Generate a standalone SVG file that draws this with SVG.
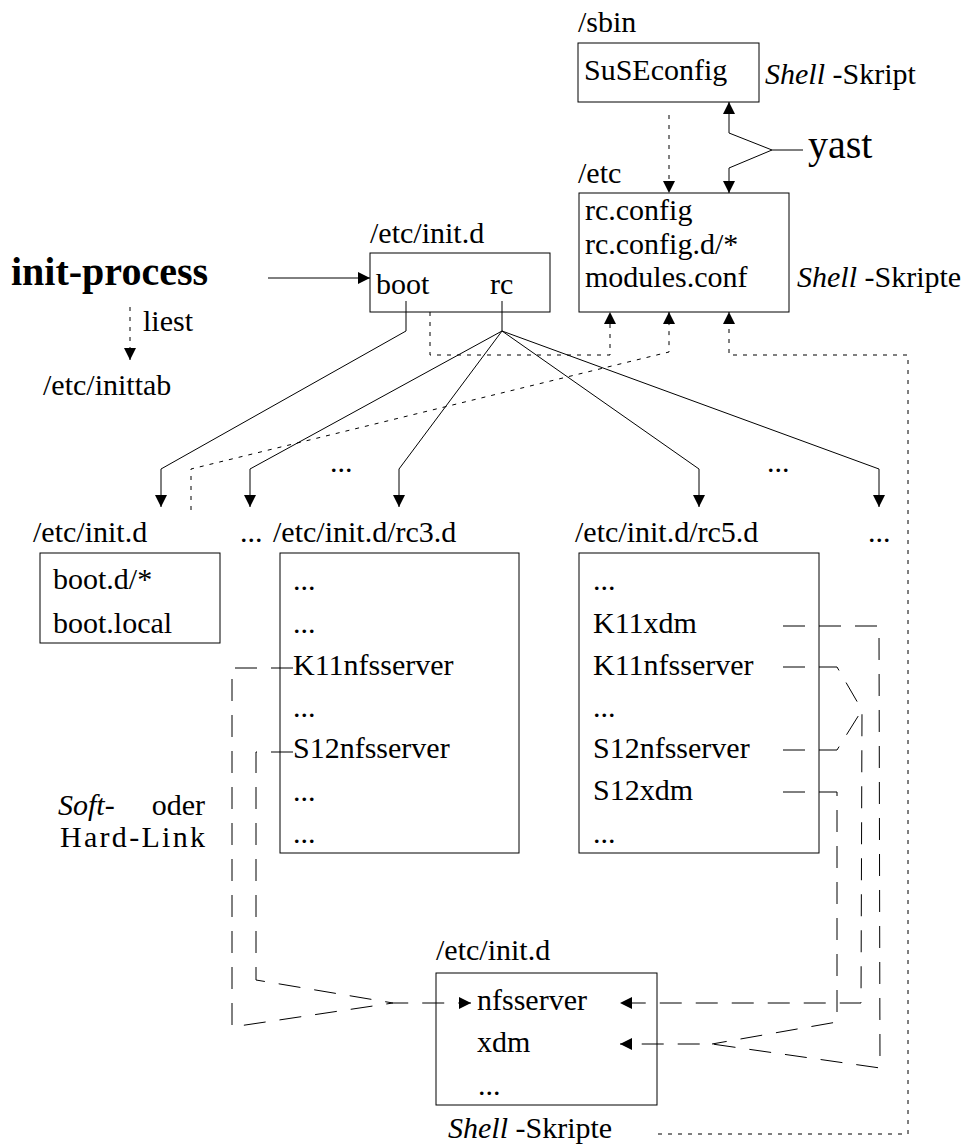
<svg xmlns="http://www.w3.org/2000/svg" width="961" height="1146" viewBox="0 0 961 1146">
<style>
text{font-family:"Liberation Serif","Times New Roman",serif;font-size:30px;fill:#000}
.it{font-style:italic}
.big{font-size:40px}
.bold{font-weight:bold}
.box{fill:none;stroke:#000;stroke-width:1}
.ln{fill:none;stroke:#000;stroke-width:1}
.dot{fill:none;stroke:#000;stroke-width:1;stroke-dasharray:4 6}
.dash{fill:none;stroke:#000;stroke-width:1;stroke-dasharray:22 14}
</style>
<defs>
<marker id="ah" viewBox="0 0 12 12" refX="12" refY="6" markerWidth="12" markerHeight="12" markerUnits="userSpaceOnUse" orient="auto">
<path d="M0,0 L12,6 L0,12 z" fill="#000"/>
</marker>
</defs>
<rect width="961" height="1146" fill="#fff"/>

<g id="sbin">
<text x="578" y="32">/sbin</text>
<rect class="box" x="578" y="43" width="181" height="59"/>
<text x="584" y="80">SuSEconfig</text>
<text x="765" y="84"><tspan class="it">Shell</tspan> -Skript</text>
</g>

<g id="yast">
<text class="big" x="808" y="158">yast</text>
</g>

<g id="etc">
<text x="578" y="183">/etc</text>
<rect class="box" x="579" y="193" width="210" height="119"/>
<text x="585" y="220">rc.config</text>
<text x="585" y="254">rc.config.d/*</text>
<text x="585" y="287">modules.conf</text>
<text x="797" y="287"><tspan class="it">Shell</tspan> -Skripte</text>
</g>

<g id="init-process">
<text class="big bold" x="11" y="285">init-process</text>
<text x="143" y="331">liest</text>
<text x="43" y="395">/etc/inittab</text>
</g>

<g id="initd-top">
<text x="370" y="243">/etc/init.d</text>
<rect class="box" x="370" y="253" width="180" height="59"/>
<text x="376" y="294">boot</text>
<text x="490" y="294">rc</text>
</g>

<g id="ellipses">
<text x="330" y="472">...</text>
<text x="767" y="472">...</text>
<text x="240" y="542">...</text>
<text x="868" y="542">...</text>
</g>

<g id="boot-d">
<text x="33" y="542">/etc/init.d</text>
<rect class="box" x="40" y="553" width="180" height="90"/>
<text x="53" y="589">boot.d/*</text>
<text x="53" y="633">boot.local</text>
</g>

<g id="rc3">
<text x="273" y="542">/etc/init.d/rc3.d</text>
<rect class="box" x="280" y="553" width="239" height="300"/>
<text x="293" y="590">...</text>
<text x="293" y="633">...</text>
<text x="293" y="675">K11nfsserver</text>
<text x="293" y="717">...</text>
<text x="293" y="758">S12nfsserver</text>
<text x="293" y="801">...</text>
<text x="293" y="843">...</text>
</g>

<g id="rc5">
<text x="575" y="542">/etc/init.d/rc5.d</text>
<rect class="box" x="579" y="553" width="240" height="300"/>
<text x="593" y="590">...</text>
<text x="593" y="633">K11xdm</text>
<text x="593" y="675">K11nfsserver</text>
<text x="593" y="717">...</text>
<text x="593" y="758">S12nfsserver</text>
<text x="593" y="800">S12xdm</text>
<text x="593" y="843">...</text>
</g>

<g id="link-label">
<text class="it" x="58" y="815">Soft-</text>
<text x="205" y="815" text-anchor="end">oder</text>
<text x="60" y="847" textLength="145" lengthAdjust="spacing">Hard-Link</text>
</g>

<g id="initd-bottom">
<text x="436" y="960">/etc/init.d</text>
<rect class="box" x="436" y="973" width="221" height="132"/>
<text x="477" y="1010">nfsserver</text>
<text x="477" y="1052">xdm</text>
<text x="478" y="1095">...</text>
<text x="448" y="1138"><tspan class="it">Shell</tspan> -Skripte</text>
</g>

<g id="connectors">
<path class="ln" d="M268,278 L370,278" marker-end="url(#ah)"/>
<path class="dot" d="M130,307 L130,360" marker-end="url(#ah)"/>
<path class="ln" d="M406,301 L406,331 L161,469 L161,507" marker-end="url(#ah)"/>
<path class="ln" d="M502,301 L502,331 L250,469 L250,507" marker-end="url(#ah)"/>
<path class="ln" d="M502,331 L399,469 L399,507" marker-end="url(#ah)"/>
<path class="ln" d="M502,331 L699,469 L699,507" marker-end="url(#ah)"/>
<path class="ln" d="M502,331 L879,469 L879,507" marker-end="url(#ah)"/>
<path class="dot" d="M669,115 L669,193" marker-end="url(#ah)"/>
<path class="ln" d="M803,150 L772,150 L729,133 L729,102" marker-end="url(#ah)"/>
<path class="ln" d="M772,150 L729,168 L729,193" marker-end="url(#ah)"/>
<path class="dot" d="M430,312 L430,355 L610,355 L610,312" marker-end="url(#ah)"/>
<path class="dot" d="M191,510 L191,469 L669,352 L669,312" marker-end="url(#ah)"/>
<path class="dot" d="M658,1134 L908,1134 L908,355 L729,355 L729,312" marker-end="url(#ah)"/>
<path class="dash" d="M293,668 L232,668 L232,1027 L393,1003 L471,1003" marker-end="url(#ah)"/>
<path class="dash" d="M293,752 L256,752 L256,980 L393,1003"/>
<path class="dash" d="M783,667 L837,667 L862,710 L861,1003 L620,1003" marker-end="url(#ah)"/>
<path class="dash" d="M783,750 L837,750 L862,710"/>
<path class="dash" d="M783,626 L879,626 L880,1068 L712,1044 L620,1044" marker-end="url(#ah)"/>
<path class="dash" d="M783,792 L837,792 L837,1022 L712,1044"/>
</g>
</svg>
